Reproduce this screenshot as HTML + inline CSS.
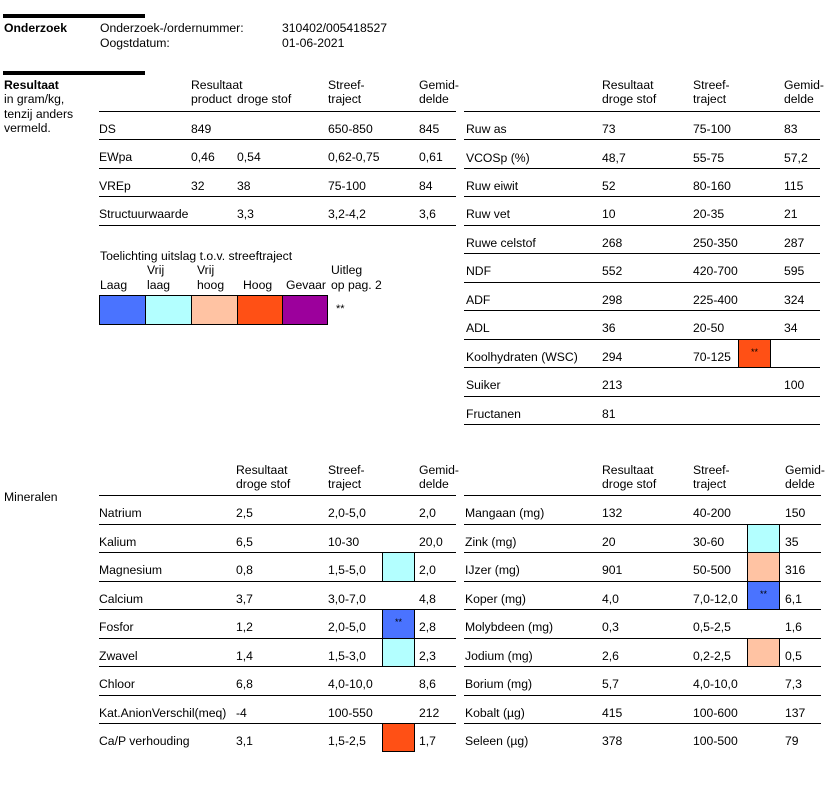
<!DOCTYPE html>
<html><head><meta charset="utf-8">
<style>
html,body{margin:0;padding:0;background:#fff;}
body{width:834px;height:799px;position:relative;overflow:hidden;font-family:"Liberation Sans",Arial,sans-serif;font-size:12.2px;color:#000;}
.t{position:absolute;line-height:14px;white-space:nowrap;}
.b{font-weight:bold;}
.l{position:absolute;height:1px;background:#000;}
.bar{position:absolute;height:4px;background:#000;left:3px;width:142px;}
.box{position:absolute;box-sizing:border-box;border:1.5px solid #000;font-size:9px;line-height:25px;text-align:center;}
.c1{background:#4a73ff;}
.c2{background:#b3ffff;}
.c3{background:#ffc3a3;}
.c4{background:#ff5015;}
.c5{background:#9c009c;}
</style></head><body>

<div class="bar" style="top:14px"></div>
<div class="t b" style="left:4px;top:21px">Onderzoek</div>
<div class="t" style="left:100px;top:21px">Onderzoek-/ordernummer:</div>
<div class="t" style="left:282px;top:21px">310402/005418527</div>
<div class="t" style="left:100px;top:35.5px">Oogstdatum:</div>
<div class="t" style="left:282px;top:35.5px">01-06-2021</div>

<div class="bar" style="top:71px"></div>
<div class="t b" style="left:4px;top:78px">Resultaat</div>
<div class="t" style="left:4px;top:92px">in gram/kg,</div>
<div class="t" style="left:4px;top:106.5px">tenzij anders</div>
<div class="t" style="left:4px;top:121px">vermeld.</div>

<!-- top-left header -->
<div class="t" style="left:191px;top:78px">Resultaat</div>
<div class="t" style="left:191px;top:91.5px">product</div>
<div class="t" style="left:237px;top:91.5px">droge stof</div>
<div class="t" style="left:328px;top:78px">Streef-</div>
<div class="t" style="left:328px;top:91.5px">traject</div>
<div class="t" style="left:419px;top:78px">Gemid-</div>
<div class="t" style="left:419px;top:91.5px">delde</div>

<div class="l" style="left:99px;width:357px;top:111px"></div>
<div class="l" style="left:99px;width:357px;top:139px"></div>
<div class="l" style="left:99px;width:357px;top:168px"></div>
<div class="l" style="left:99px;width:357px;top:196px"></div>
<div class="l" style="left:99px;width:357px;top:225px"></div>

<div class="t" style="left:99px;top:122px">DS</div>
<div class="t" style="left:191px;top:122px">849</div>
<div class="t" style="left:328px;top:122px">650-850</div>
<div class="t" style="left:419px;top:122px">845</div>

<div class="t" style="left:99px;top:150.3px">EWpa</div>
<div class="t" style="left:191px;top:150.3px">0,46</div>
<div class="t" style="left:237px;top:150.3px">0,54</div>
<div class="t" style="left:328px;top:150.3px">0,62-0,75</div>
<div class="t" style="left:419px;top:150.3px">0,61</div>

<div class="t" style="left:99px;top:178.7px">VREp</div>
<div class="t" style="left:191px;top:178.7px">32</div>
<div class="t" style="left:237px;top:178.7px">38</div>
<div class="t" style="left:328px;top:178.7px">75-100</div>
<div class="t" style="left:419px;top:178.7px">84</div>

<div class="t" style="left:99px;top:207px">Structuurwaarde</div>
<div class="t" style="left:237px;top:207px">3,3</div>
<div class="t" style="left:328px;top:207px">3,2-4,2</div>
<div class="t" style="left:419px;top:207px">3,6</div>

<!-- legend -->
<div class="t" style="left:100px;top:249px">Toelichting uitslag t.o.v. streeftraject</div>
<div class="t" style="left:147px;top:263px">Vrij</div>
<div class="t" style="left:197px;top:263px">Vrij</div>
<div class="t" style="left:331px;top:263px">Uitleg</div>
<div class="t" style="left:100px;top:278px">Laag</div>
<div class="t" style="left:147px;top:278px">laag</div>
<div class="t" style="left:197px;top:278px">hoog</div>
<div class="t" style="left:243px;top:278px">Hoog</div>
<div class="t" style="left:286px;top:278px">Gevaar</div>
<div class="t" style="left:331px;top:278px">op pag. 2</div>
<div class="box c1" style="left:99px;top:295px;width:47px;height:30px"></div>
<div class="box c2" style="left:144.5px;top:295px;width:47.5px;height:30px"></div>
<div class="box c3" style="left:190.5px;top:295px;width:47.5px;height:30px"></div>
<div class="box c4" style="left:236.5px;top:295px;width:46.5px;height:30px"></div>
<div class="box c5" style="left:281.5px;top:295px;width:46.5px;height:30px"></div>
<div class="t" style="left:336px;top:302px;font-size:11px">**</div>

<!-- top-right table -->
<div class="t" style="left:602px;top:78px">Resultaat</div>
<div class="t" style="left:602px;top:91.5px">droge stof</div>
<div class="t" style="left:693px;top:78px">Streef-</div>
<div class="t" style="left:693px;top:91.5px">traject</div>
<div class="t" style="left:784px;top:78px">Gemid-</div>
<div class="t" style="left:784px;top:91.5px">delde</div>

<div class="l" style="left:464px;width:356px;top:111px"></div>
<div class="l" style="left:464px;width:356px;top:139px"></div>
<div class="l" style="left:464px;width:356px;top:168px"></div>
<div class="l" style="left:464px;width:356px;top:196px"></div>
<div class="l" style="left:464px;width:356px;top:225px"></div>
<div class="l" style="left:464px;width:356px;top:253px"></div>
<div class="l" style="left:464px;width:356px;top:282px"></div>
<div class="l" style="left:464px;width:356px;top:310px"></div>
<div class="l" style="left:464px;width:356px;top:339px"></div>
<div class="l" style="left:464px;width:356px;top:367px"></div>
<div class="l" style="left:464px;width:356px;top:396px"></div>
<div class="l" style="left:464px;width:356px;top:424px"></div>

<div class="t" style="left:466px;top:122px">Ruw as</div>
<div class="t" style="left:602px;top:122px">73</div>
<div class="t" style="left:693px;top:122px">75-100</div>
<div class="t" style="left:784px;top:122px">83</div>

<div class="t" style="left:466px;top:150.5px">VCOSp (%)</div>
<div class="t" style="left:602px;top:150.5px">48,7</div>
<div class="t" style="left:693px;top:150.5px">55-75</div>
<div class="t" style="left:784px;top:150.5px">57,2</div>

<div class="t" style="left:466px;top:179px">Ruw eiwit</div>
<div class="t" style="left:602px;top:179px">52</div>
<div class="t" style="left:693px;top:179px">80-160</div>
<div class="t" style="left:784px;top:179px">115</div>

<div class="t" style="left:466px;top:207.4px">Ruw vet</div>
<div class="t" style="left:602px;top:207.4px">10</div>
<div class="t" style="left:693px;top:207.4px">20-35</div>
<div class="t" style="left:784px;top:207.4px">21</div>

<div class="t" style="left:466px;top:235.9px">Ruwe celstof</div>
<div class="t" style="left:602px;top:235.9px">268</div>
<div class="t" style="left:693px;top:235.9px">250-350</div>
<div class="t" style="left:784px;top:235.9px">287</div>

<div class="t" style="left:466px;top:264.4px">NDF</div>
<div class="t" style="left:602px;top:264.4px">552</div>
<div class="t" style="left:693px;top:264.4px">420-700</div>
<div class="t" style="left:784px;top:264.4px">595</div>

<div class="t" style="left:466px;top:292.9px">ADF</div>
<div class="t" style="left:602px;top:292.9px">298</div>
<div class="t" style="left:693px;top:292.9px">225-400</div>
<div class="t" style="left:784px;top:292.9px">324</div>

<div class="t" style="left:466px;top:321.4px">ADL</div>
<div class="t" style="left:602px;top:321.4px">36</div>
<div class="t" style="left:693px;top:321.4px">20-50</div>
<div class="t" style="left:784px;top:321.4px">34</div>

<div class="t" style="left:466px;top:349.8px">Koolhydraten (WSC)</div>
<div class="t" style="left:602px;top:349.8px">294</div>
<div class="t" style="left:693px;top:349.8px">70-125</div>
<div class="box c4" style="left:738.3px;top:339px;width:32.4px;height:29px">**</div>

<div class="t" style="left:466px;top:378.3px">Suiker</div>
<div class="t" style="left:602px;top:378.3px">213</div>
<div class="t" style="left:784px;top:378.3px">100</div>

<div class="t" style="left:466px;top:406.8px">Fructanen</div>
<div class="t" style="left:602px;top:406.8px">81</div>

<!-- minerals -->
<div class="t" style="left:4px;top:490px">Mineralen</div>

<div class="t" style="left:236px;top:463px">Resultaat</div>
<div class="t" style="left:236px;top:477px">droge stof</div>
<div class="t" style="left:328px;top:463px">Streef-</div>
<div class="t" style="left:328px;top:477px">traject</div>
<div class="t" style="left:419px;top:463px">Gemid-</div>
<div class="t" style="left:419px;top:477px">delde</div>

<div class="t" style="left:602px;top:463px">Resultaat</div>
<div class="t" style="left:602px;top:477px">droge stof</div>
<div class="t" style="left:693px;top:463px">Streef-</div>
<div class="t" style="left:693px;top:477px">traject</div>
<div class="t" style="left:785px;top:463px">Gemid-</div>
<div class="t" style="left:785px;top:477px">delde</div>

<div class="l" style="left:99px;width:357px;top:495px"></div>
<div class="l" style="left:99px;width:357px;top:524px"></div>
<div class="l" style="left:99px;width:357px;top:552px"></div>
<div class="l" style="left:99px;width:357px;top:581px"></div>
<div class="l" style="left:99px;width:357px;top:609px"></div>
<div class="l" style="left:99px;width:357px;top:638px"></div>
<div class="l" style="left:99px;width:357px;top:666px"></div>
<div class="l" style="left:99px;width:357px;top:695px"></div>
<div class="l" style="left:99px;width:357px;top:723px"></div>

<div class="l" style="left:464px;width:357px;top:495px"></div>
<div class="l" style="left:464px;width:357px;top:524px"></div>
<div class="l" style="left:464px;width:357px;top:552px"></div>
<div class="l" style="left:464px;width:357px;top:581px"></div>
<div class="l" style="left:464px;width:357px;top:609px"></div>
<div class="l" style="left:464px;width:357px;top:638px"></div>
<div class="l" style="left:464px;width:357px;top:666px"></div>
<div class="l" style="left:464px;width:357px;top:695px"></div>
<div class="l" style="left:464px;width:357px;top:723px"></div>

<!-- left minerals rows -->
<div class="t" style="left:99px;top:506px">Natrium</div>
<div class="t" style="left:236px;top:506px">2,5</div>
<div class="t" style="left:328px;top:506px">2,0-5,0</div>
<div class="t" style="left:419px;top:506px">2,0</div>

<div class="t" style="left:99px;top:534.5px">Kalium</div>
<div class="t" style="left:236px;top:534.5px">6,5</div>
<div class="t" style="left:328px;top:534.5px">10-30</div>
<div class="t" style="left:419px;top:534.5px">20,0</div>

<div class="t" style="left:99px;top:563px">Magnesium</div>
<div class="t" style="left:236px;top:563px">0,8</div>
<div class="t" style="left:328px;top:563px">1,5-5,0</div>
<div class="box c2" style="left:382px;top:552px;width:33px;height:30px"></div>
<div class="t" style="left:419px;top:563px">2,0</div>

<div class="t" style="left:99px;top:591.5px">Calcium</div>
<div class="t" style="left:236px;top:591.5px">3,7</div>
<div class="t" style="left:328px;top:591.5px">3,0-7,0</div>
<div class="t" style="left:419px;top:591.5px">4,8</div>

<div class="t" style="left:99px;top:620px">Fosfor</div>
<div class="t" style="left:236px;top:620px">1,2</div>
<div class="t" style="left:328px;top:620px">2,0-5,0</div>
<div class="box c1" style="left:382px;top:609px;width:33px;height:30px">**</div>
<div class="t" style="left:419px;top:620px">2,8</div>

<div class="t" style="left:99px;top:648.5px">Zwavel</div>
<div class="t" style="left:236px;top:648.5px">1,4</div>
<div class="t" style="left:328px;top:648.5px">1,5-3,0</div>
<div class="box c2" style="left:382px;top:638px;width:33px;height:29px"></div>
<div class="t" style="left:419px;top:648.5px">2,3</div>

<div class="t" style="left:99px;top:677px">Chloor</div>
<div class="t" style="left:236px;top:677px">6,8</div>
<div class="t" style="left:328px;top:677px">4,0-10,0</div>
<div class="t" style="left:419px;top:677px">8,6</div>

<div class="t" style="left:99px;top:705.5px">Kat.AnionVerschil(meq)</div>
<div class="t" style="left:236px;top:705.5px">-4</div>
<div class="t" style="left:328px;top:705.5px">100-550</div>
<div class="t" style="left:419px;top:705.5px">212</div>

<div class="t" style="left:99px;top:734px">Ca/P verhouding</div>
<div class="t" style="left:236px;top:734px">3,1</div>
<div class="t" style="left:328px;top:734px">1,5-2,5</div>
<div class="box c4" style="left:382px;top:723px;width:33px;height:29px"></div>
<div class="t" style="left:419px;top:734px">1,7</div>

<!-- right minerals rows -->
<div class="t" style="left:465px;top:506px">Mangaan (mg)</div>
<div class="t" style="left:602px;top:506px">132</div>
<div class="t" style="left:693px;top:506px">40-200</div>
<div class="t" style="left:785px;top:506px">150</div>

<div class="t" style="left:465px;top:534.5px">Zink (mg)</div>
<div class="t" style="left:602px;top:534.5px">20</div>
<div class="t" style="left:693px;top:534.5px">30-60</div>
<div class="box c2" style="left:747.3px;top:524px;width:32.5px;height:29px"></div>
<div class="t" style="left:785px;top:534.5px">35</div>

<div class="t" style="left:465px;top:563px">IJzer (mg)</div>
<div class="t" style="left:602px;top:563px">901</div>
<div class="t" style="left:693px;top:563px">50-500</div>
<div class="box c3" style="left:747.3px;top:552px;width:32.5px;height:30px"></div>
<div class="t" style="left:785px;top:563px">316</div>

<div class="t" style="left:465px;top:591.5px">Koper (mg)</div>
<div class="t" style="left:602px;top:591.5px">4,0</div>
<div class="t" style="left:693px;top:591.5px">7,0-12,0</div>
<div class="box c1" style="left:747.3px;top:581px;width:32.5px;height:29px">**</div>
<div class="t" style="left:785px;top:591.5px">6,1</div>

<div class="t" style="left:465px;top:620px">Molybdeen (mg)</div>
<div class="t" style="left:602px;top:620px">0,3</div>
<div class="t" style="left:693px;top:620px">0,5-2,5</div>
<div class="t" style="left:785px;top:620px">1,6</div>

<div class="t" style="left:465px;top:648.5px">Jodium (mg)</div>
<div class="t" style="left:602px;top:648.5px">2,6</div>
<div class="t" style="left:693px;top:648.5px">0,2-2,5</div>
<div class="box c3" style="left:747.3px;top:638px;width:32.5px;height:29px"></div>
<div class="t" style="left:785px;top:648.5px">0,5</div>

<div class="t" style="left:465px;top:677px">Borium (mg)</div>
<div class="t" style="left:602px;top:677px">5,7</div>
<div class="t" style="left:693px;top:677px">4,0-10,0</div>
<div class="t" style="left:785px;top:677px">7,3</div>

<div class="t" style="left:465px;top:705.5px">Kobalt (µg)</div>
<div class="t" style="left:602px;top:705.5px">415</div>
<div class="t" style="left:693px;top:705.5px">100-600</div>
<div class="t" style="left:785px;top:705.5px">137</div>

<div class="t" style="left:465px;top:734px">Seleen (µg)</div>
<div class="t" style="left:602px;top:734px">378</div>
<div class="t" style="left:693px;top:734px">100-500</div>
<div class="t" style="left:785px;top:734px">79</div>

</body></html>
